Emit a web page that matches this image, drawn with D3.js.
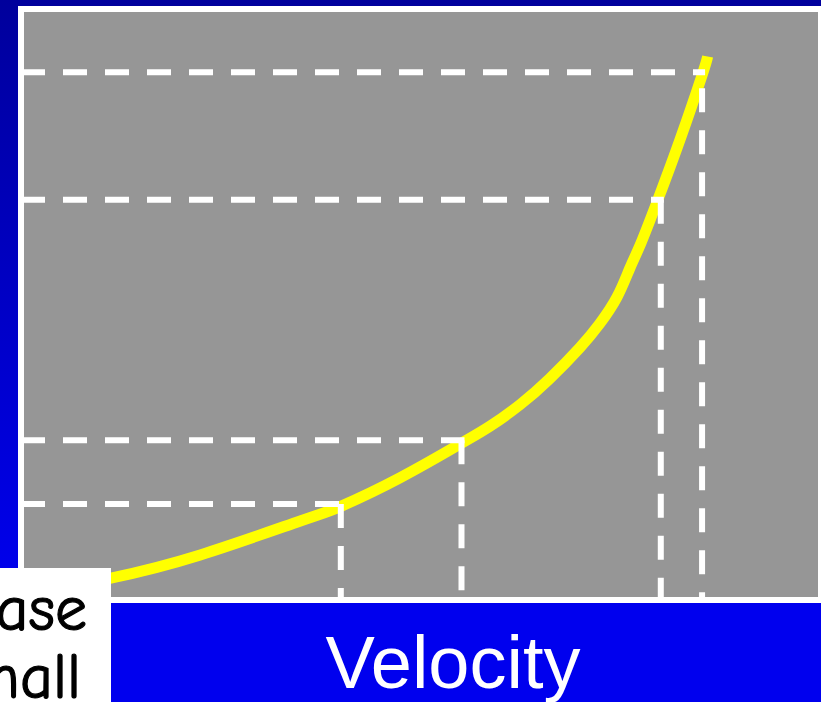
<!DOCTYPE html>
<html>
<head>
  <title>velocityCurve</title>
  <script src="https://d3js.org/d3.v7.min.js"></script>
  <style>
    body { margin: 0; overflow: hidden; }
  </style>
</head>
<body>
  <svg width="821" height="702" id="mainsvg"></svg>
  <script>
    // curve (arbitrary units, 0-100 on both axes)
    const velocity = [0, 10.8, 22.2, 34.8, 39.9, 47.4, 55.0, 58.7, 62.5, 66.2, 70.0, 72.5, 74.7, 76.3, 77.7, 79.8, 82.6, 85.4, 86.1];
    const quantity = [0.5, 3.2, 7.2, 13.0, 15.5, 20.4, 26.2, 29.2, 32.9, 37.3, 42.6, 46.7, 51.3, 56.2, 60.5, 67.8, 78.1, 89.2, 92.4];
    // dashed guide lines (velocity, quantity)
    const guideV = [39.9, 55.1, 80.2, 85.4];
    const guideQ = [15.9, 26.8, 67.9, 89.7];
    const axisTitle = 'Velocity';
    const noteLines = ['ase', 'nall'];

    const svg = d3.select('#mainsvg');
    const width = +svg.attr('width');
    const height = +svg.attr('height');
    const plot = { left: 24, right: 818, top: 12, bottom: 597 };

    const xScale = d3.scaleLinear().domain([0, 100]).range([plot.left, plot.right]);
    const yScale = d3.scaleLinear().domain([0, 100]).range([plot.bottom, plot.top]);

    // background gradient
    const grad = svg.append('defs').append('linearGradient')
      .attr('id', 'bg').attr('x1', 0).attr('y1', 0).attr('x2', 0).attr('y2', 1);
    grad.append('stop').attr('offset', '0%').attr('stop-color', '#00009c');
    grad.append('stop').attr('offset', '85%').attr('stop-color', '#0000ee');
    grad.append('stop').attr('offset', '100%').attr('stop-color', '#0000f0');
    svg.append('rect').attr('width', width).attr('height', height).attr('fill', 'url(#bg)');
    svg.append('rect').attr('x', 0).attr('y', plot.bottom + 6).attr('width', width).attr('height', height)
      .attr('fill', '#0000ee');

    // white frame + grey plot area
    svg.append('rect')
      .attr('x', plot.left - 6).attr('y', plot.top - 6)
      .attr('width', plot.right - plot.left + 12).attr('height', plot.bottom - plot.top + 12)
      .attr('fill', '#ffffff');
    svg.append('rect')
      .attr('x', plot.left).attr('y', plot.top)
      .attr('width', plot.right - plot.left).attr('height', plot.bottom - plot.top)
      .attr('fill', '#969696');

    const g = svg.append('g');

    const points = velocity.map((v, i) => [v, quantity[i]]);
    const line = d3.line()
      .x(d => xScale(d[0]))
      .y(d => yScale(d[1]))
      .curve(d3.curveNatural);

    g.append('path')
      .datum(points)
      .attr('d', line)
      .attr('fill', 'none')
      .attr('stroke', '#ffff00')
      .attr('stroke-width', 11)
      .attr('stroke-linecap', 'butt');

    // guides
    guideV.forEach((v, i) => {
      const q = guideQ[i];
      g.append('line')
        .attr('x1', xScale(0) - 3).attr('x2', xScale(v) + 3)
        .attr('y1', yScale(q)).attr('y2', yScale(q))
        .attr('stroke', '#ffffff').attr('stroke-width', 6)
        .attr('stroke-dasharray', '24 18');
      g.append('line')
        .attr('x1', xScale(v)).attr('x2', xScale(v))
        .attr('y1', yScale(q)).attr('y2', yScale(0))
        .attr('stroke', '#ffffff').attr('stroke-width', 6)
        .attr('stroke-dasharray', '24 18')
        .attr('stroke-dashoffset', i === guideV.length - 1 ? 26 : 0);
    });

    svg.append('text')
      .text(axisTitle)
      .attr('x', 453).attr('y', 688)
      .attr('text-anchor', 'middle')
      .attr('font-family', 'Arial, "Liberation Sans", Helvetica, sans-serif')
      .attr('font-size', 74)
      .attr('fill', '#ffffff');

    // cut-off note box at bottom left
    svg.append('rect')
      .attr('x', 0).attr('y', 568).attr('width', 111).attr('height', height - 568)
      .attr('fill', '#ffffff');
    const noteEnds = [87, 81];
    noteLines.forEach((t, i) => {
      svg.append('text')
        .text(t)
        .attr('x', noteEnds[i]).attr('y', 630 + i * 68)
        .attr('text-anchor', 'end')
        .attr('font-family', '"Comic Sans MS", "Comic Neue", cursive')
        .attr('font-size', 64)
        .attr('stroke', '#000000')
        .attr('stroke-width', 1.2)
        .attr('fill', '#000000');
    });
  </script>
</body>
</html>
